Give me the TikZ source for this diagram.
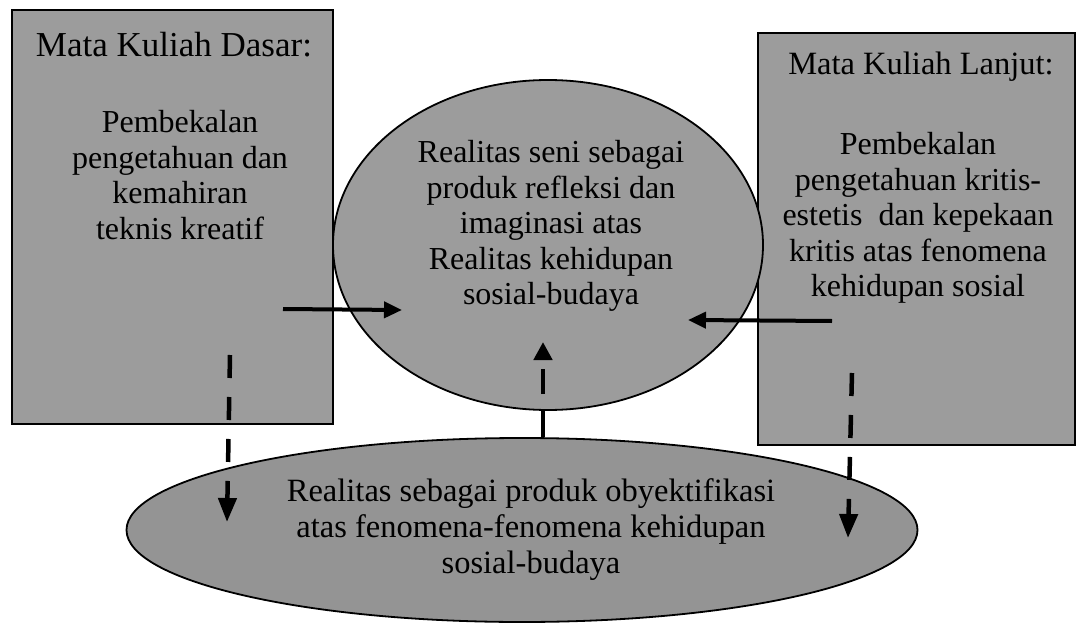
\documentclass[tikz,border=0pt]{standalone}
\usepackage{fontspec}
\setmainfont{Liberation Serif}
\usetikzlibrary{shapes.geometric,arrows.meta}
\begin{document}
\begin{tikzpicture}[x=1pt,y=-1pt,
  box/.style={draw=black,line width=1.8pt,fill=black!39},
  oval/.style={ellipse,draw=black,line width=1.8pt,fill=black!39,inner sep=0pt},
  txt/.style={align=center,font=\fontsize{32}{35.5}\selectfont,inner sep=0pt},
  solidarrow/.style={line width=4pt,-{Triangle[length=18pt,width=16pt]}},
  dasharrow/.style={line width=4.5pt,-{Triangle[length=24pt,width=18pt]},dash pattern=on 23pt off 19pt}]
\useasboundingbox (0,0) rectangle (1082,626);
% shapes
\node[box,minimum width=321pt,minimum height=414pt] (L) at (172.5,217) {};
\node[box,minimum width=317pt,minimum height=412pt] (R) at (916.5,239) {};
\node[oval,minimum width=430pt,minimum height=330pt] (C) at (548,245) {};
\node[oval,fill=black!42,minimum width=791pt,minimum height=184pt] (B) at (522,530) {};
% texts
\node[txt,font=\fontsize{35}{38}\selectfont] (Lt) at (174,45) {Mata Kuliah Dasar:};
\node[txt] (Lb) at (180,175) {Pembekalan\\pengetahuan dan\\kemahiran\\teknis kreatif};
\node[txt,font=\fontsize{32.5}{36}\selectfont] (Rt) at (921,67) {Mata Kuliah Lanjut:};
\node[txt] (Rb) at (918,218) {Pembekalan\\pengetahuan kritis-\\estetis\ \ dan kepekaan\\kritis atas fenomena\\kehidupan sosial};
\node[txt] (Ct) at (551,226) {Realitas seni sebagai\\produk refleksi dan\\imaginasi atas\\Realitas kehidupan\\sosial-budaya};
\node[txt,font=\fontsize{32.5}{36}\selectfont] (Bt) at (531,530) {Realitas sebagai produk obyektifikasi\\atas fenomena-fenomena kehidupan\\sosial-budaya};
% connectors
\coordinate (l1) at (283,309); \coordinate (l2) at (402,310);
\draw[solidarrow] (l1) -- (l2);
\coordinate (r1) at (832,321); \coordinate (r2) at (688,320);
\draw[solidarrow] (r1) -- (r2);
\coordinate (ctip) at (543,342);
\draw[line width=4.5pt,-{Triangle[length=18pt,width=18pt]},dash pattern=on 28pt off 15pt on 25pt off 10pt] (B.north -| ctip) -- (ctip);
\coordinate (ls) at (230,355); \coordinate (le) at (227,522);
\draw[dasharrow] (ls) -- (le);
\coordinate (rs) at (852,373); \coordinate (re) at (848,538);
\draw[dasharrow] (rs) -- (re);
\end{tikzpicture}
\end{document}
